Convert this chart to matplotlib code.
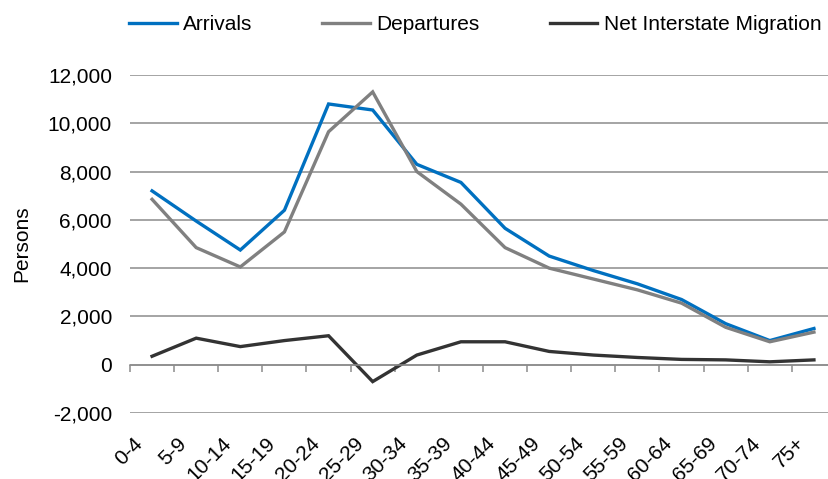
import numpy as np
import matplotlib
matplotlib.use("Agg")
import matplotlib.pyplot as plt
from matplotlib.transforms import ScaledTranslation
from matplotlib.ticker import FuncFormatter

plt.rcParams['font.family'] = ['Liberation Sans', 'DejaVu Sans']

age_groups = ['0-4', '5-9', '10-14', '15-19', '20-24', '25-29', '30-34', '35-39',
              '40-44', '45-49', '50-54', '55-59', '60-64', '65-69', '70-74', '75+']
arrivals = [7200, 5950, 4750, 6400, 10800, 10550, 8300, 7550,
            5650, 4500, 3900, 3350, 2700, 1700, 1000, 1500]
departures = [6850, 4850, 4050, 5500, 9650, 11300, 8000, 6650,
              4850, 4000, 3550, 3100, 2550, 1550, 950, 1350]
net_migration = [350, 1100, 750, 1000, 1200, -700, 400, 950,
                 950, 550, 400, 300, 220, 200, 120, 200]

grid_col = '#8c8c8c'
fs = 15

fig = plt.figure(figsize=(8.29, 4.79), dpi=100)
ax = fig.add_axes([130 / 829, 1 - 413 / 479, 706 / 829, 338 / 479])

x = np.arange(len(age_groups))
ax.plot(x, arrivals, color='#0070c0', lw=2.4, label='Arrivals', solid_joinstyle='miter')
ax.plot(x, departures, color='#808080', lw=2.4, label='Departures', solid_joinstyle='miter')
ax.plot(x, net_migration, color='#333333', lw=2.4, label='Net Interstate Migration',
        solid_joinstyle='miter')

ax.set_xlim(-0.5, len(age_groups) - 0.5)
ax.set_ylim(-2000, 12000)
ax.set_yticks(np.arange(-2000, 12001, 2000))
ax.yaxis.set_major_formatter(FuncFormatter(lambda v, p: f'{v:,.0f}'))
ax.yaxis.grid(True, color=grid_col, lw=1.1)
ax.set_axisbelow(True)
ax.tick_params(axis='y', length=0, pad=13, labelsize=fs)
ax.set_ylabel('Persons', fontsize=fs, labelpad=12)

for side in ['top', 'right', 'left']:
    ax.spines[side].set_visible(False)

# category axis sits on the zero line, tick marks between categories
ax.spines['bottom'].set_position(('data', 0))
ax.spines['bottom'].set_color(grid_col)
ax.spines['bottom'].set_linewidth(1.1)
ax.set_xticks(np.arange(-0.5, len(age_groups) - 0.5, 1))
ax.tick_params(axis='x', length=5, width=1.1, color=grid_col, labelbottom=False)

# category labels along the bottom of the plot area
sec = ax.secondary_xaxis(0)
sec.set_xticks(x)
sec.set_xticklabels(age_groups, rotation=45, ha='right', va='top',
                    rotation_mode='anchor', fontsize=fs)
sec.tick_params(length=0, pad=15)
sec.spines['bottom'].set_visible(False)
shift = ScaledTranslation(-19 / 100, 0, fig.dpi_scale_trans)
for lbl in sec.get_xticklabels():
    lbl.set_transform(lbl.get_transform() + shift)

fig.legend(loc='center left', bbox_to_anchor=(129 / 829, 1 - 25 / 479), ncol=3,
           frameon=False, fontsize=fs, handlelength=2.3, handletextpad=0.3,
           columnspacing=3.35, borderpad=0, borderaxespad=0)

fig.savefig('out.png', dpi=100)
